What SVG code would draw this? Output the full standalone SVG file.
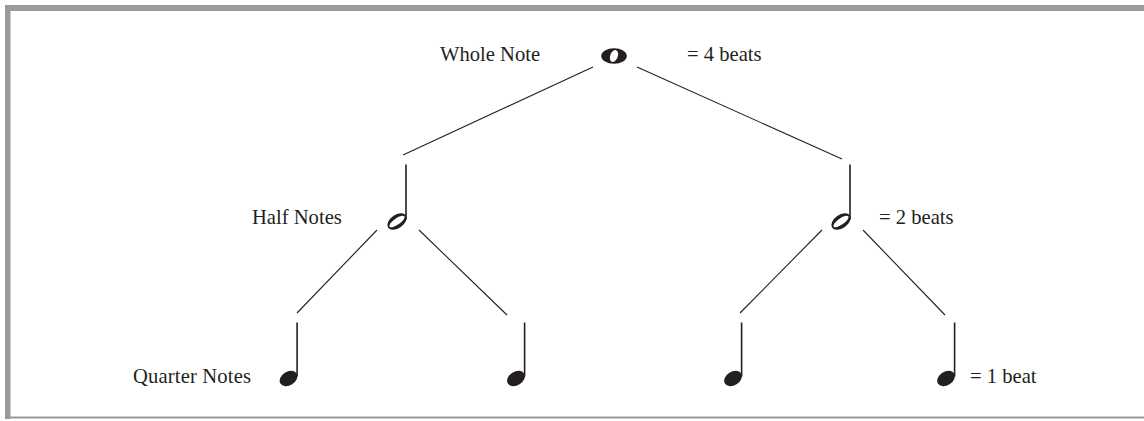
<svg xmlns="http://www.w3.org/2000/svg" width="1144" height="421" viewBox="0 0 1144 421">
<style>
.t{font-family:"Liberation Serif","Times New Roman",serif;font-size:20.6px;fill:#231f20}
.c{stroke:#231f20;stroke-width:1.1;fill:none}
.stem{stroke:#231f20;stroke-width:1.6}
.ink{fill:#231f20}
</style>
<defs>
<g id="quarter">
<ellipse class="ink" cx="0" cy="0" rx="9.6" ry="6.8" transform="rotate(-32)"/>
<line class="stem" x1="8.6" y1="-2" x2="8.6" y2="-56"/>
</g>
<g id="half">
<path class="ink" fill-rule="evenodd" d="M-10.8,0 a10.8,6.6 0 1,0 21.6,0 a10.8,6.6 0 1,0 -21.6,0 Z M-9,0 a9,3.2 0 1,0 18,0 a9,3.2 0 1,0 -18,0 Z" transform="rotate(-35)"/>
<line class="stem" x1="9" y1="-2" x2="9" y2="-57"/>
</g>
</defs>
<rect x="0" y="0" width="1144" height="421" fill="#fff"/>
<g id="frame" fill="#999a9c">
<rect x="5" y="5" width="1139" height="6"/>
<rect x="5" y="5" width="5.5" height="414"/>
<rect x="5" y="416.5" width="1139" height="2"/>
</g>
<g id="connectors">
<line class="c" x1="593" y1="67" x2="403" y2="155"/>
<line class="c" x1="637" y1="67" x2="842" y2="159"/>
<line class="c" x1="377" y1="230" x2="297" y2="313"/>
<line class="c" x1="419" y1="230" x2="507" y2="315"/>
<line class="c" x1="822" y1="230" x2="740" y2="313"/>
<line class="c" x1="863" y1="230" x2="945" y2="315"/>
</g>
<g id="whole">
<text class="t" x="440" y="61">Whole Note</text>
<ellipse class="ink" cx="614" cy="56" rx="12.8" ry="7.8"/>
<ellipse fill="#fff" cx="614" cy="56" rx="3.8" ry="6.2" transform="rotate(20 614 56)"/>
<text class="t" x="687" y="61">= 4 beats</text>
</g>
<g id="half-left">
<text class="t" x="252" y="224">Half Notes</text>
<use href="#half" x="397" y="221.5"/>
</g>
<g id="half-right">
<use href="#half" x="841" y="221.5"/>
<text class="t" x="879" y="224">= 2 beats</text>
</g>
<g id="quarter-1">
<text class="t" x="133" y="383" textLength="118" lengthAdjust="spacing">Quarter Notes</text>
<use href="#quarter" x="288.5" y="378.5"/>
</g>
<g id="quarter-2">
<use href="#quarter" x="516" y="378.5"/>
</g>
<g id="quarter-3">
<use href="#quarter" x="733" y="378.5"/>
</g>
<g id="quarter-4">
<use href="#quarter" x="946" y="378.5"/>
<text class="t" x="970" y="383">= 1 beat</text>
</g>
</svg>
